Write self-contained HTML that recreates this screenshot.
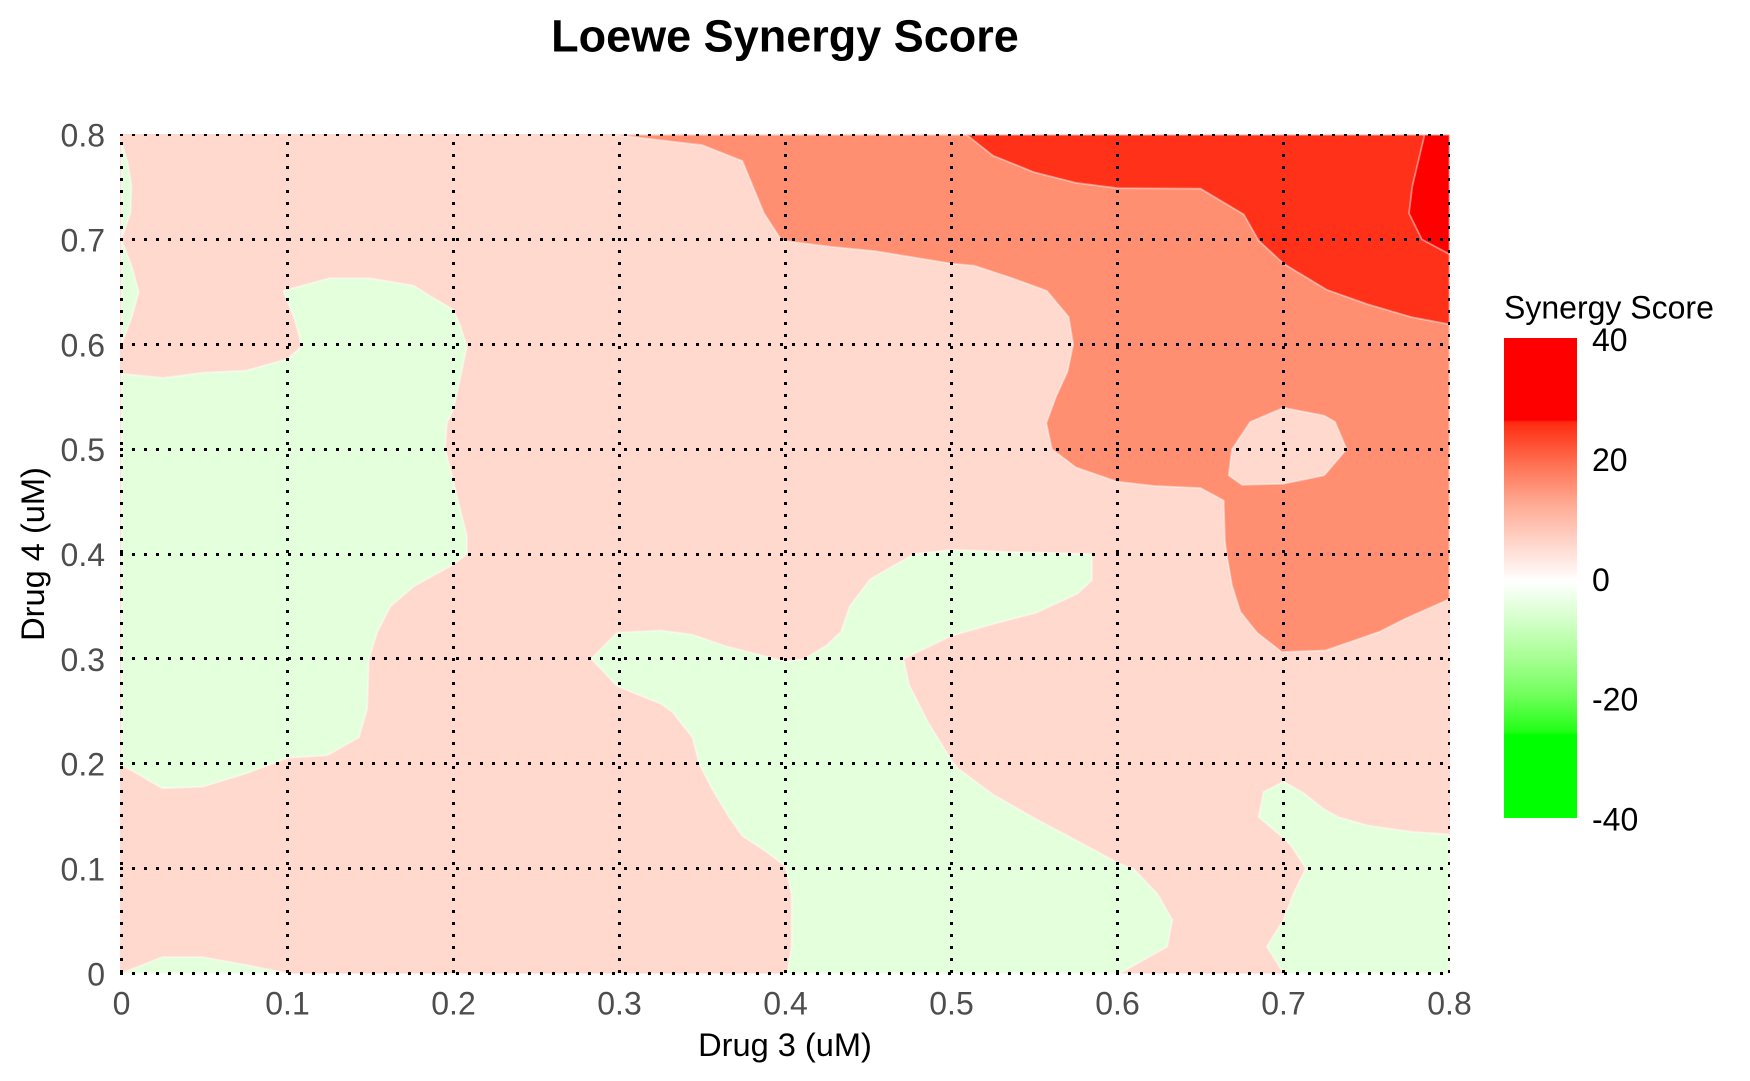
<!DOCTYPE html>
<html lang="en">
<head>
<meta charset="utf-8">
<title>Loewe Synergy Score</title>
<style>
  html, body { margin: 0; padding: 0; background: #fff; }
  svg { display: block; font-family: "Liberation Sans", Arial, sans-serif; }
</style>
</head>
<body>
<svg id="chart" xmlns="http://www.w3.org/2000/svg" width="1750" height="1081" viewBox="0 0 1750 1081">
  <defs>
    <linearGradient id="legend-gradient" x1="0" y1="0" x2="0" y2="1">
      <stop offset="0" stop-color="#ff0000"/>
      <stop offset="0.171" stop-color="#ff0000"/>
      <stop offset="0.175" stop-color="#ff2a10"/>
      <stop offset="0.256" stop-color="#ff6b4c"/>
      <stop offset="0.338" stop-color="#ffa58e"/>
      <stop offset="0.42" stop-color="#ffd2c6"/>
      <stop offset="0.49" stop-color="#fff6f3"/>
      <stop offset="0.504" stop-color="#ffffff"/>
      <stop offset="0.52" stop-color="#f8fff6"/>
      <stop offset="0.585" stop-color="#d5ffcb"/>
      <stop offset="0.665" stop-color="#a8ff94"/>
      <stop offset="0.745" stop-color="#6fff5a"/>
      <stop offset="0.822" stop-color="#20ff14"/>
      <stop offset="0.827" stop-color="#00ff00"/>
      <stop offset="1" stop-color="#00ff00"/>
    </linearGradient>
    <clipPath id="panel-clip">
      <rect x="120" y="134" width="1330" height="841"/>
    </clipPath>
  </defs>
  <rect x="0" y="0" width="1750" height="1081" fill="#ffffff"/>
  <text x="785" y="51.5" text-anchor="middle" font-size="45" font-weight="700" fill="#000000">Loewe Synergy Score</text>
  <g id="regions" clip-path="url(#panel-clip)"></g>
  <g id="grid" clip-path="url(#panel-clip)"></g>
  <g id="x-ticks"></g>
  <g id="y-ticks"></g>
  <text x="785" y="1056" text-anchor="middle" font-size="32.6" fill="#000000">Drug 3 (uM)</text>
  <text x="0" y="0" transform="translate(44 554) rotate(-90)" text-anchor="middle" font-size="32.6" fill="#000000">Drug 4 (uM)</text>
  <g id="legend">
    <text x="1504" y="318.5" font-size="32" fill="#000000">Synergy Score</text>
    <rect x="1504" y="338" width="73" height="480" fill="url(#legend-gradient)"/>
  </g>
</svg>
<script>
// Axis tick values (uM)
const xTicks = [0, 0.1, 0.2, 0.3, 0.4, 0.5, 0.6, 0.7, 0.8];
const yTicks = [0, 0.1, 0.2, 0.3, 0.4, 0.5, 0.6, 0.7, 0.8];
const legendTicks = [40, 20, 0, -20, -40];

// Contour boundaries in data units: Drug 3 dose (x) and Drug 4 dose (y)
const greenSliverUpperDrug3 = [0, 0.0037, 0.006, 0.0054, 0];
const greenSliverUpperDrug4 = [0.793, 0.774, 0.751, 0.726, 0.7];

const greenSliverLowerDrug3 = [0, 0.006, 0.0104, 0.006, 0];
const greenSliverLowerDrug4 = [0.7, 0.675, 0.65, 0.625, 0.6];

const greenLeftDrug3 = [0, 0.025, 0.049, 0.075, 0.1, 0.1086, 0.1045, 0.0975, 0.125, 0.15, 0.176, 0.186, 0.2, 0.204, 0.208, 0.204, 0.2, 0.196, 0.195, 0.2, 0.204, 0.208, 0.208, 0.2, 0.176, 0.162, 0.154, 0.149, 0.148, 0.143, 0.124, 0.1, 0.075, 0.049, 0.0245, 0];
const greenLeftDrug4 = [0.572, 0.568, 0.573, 0.575, 0.586, 0.598, 0.623, 0.651, 0.663, 0.663, 0.656, 0.646, 0.633, 0.618, 0.598, 0.567, 0.538, 0.525, 0.5, 0.469, 0.443, 0.418, 0.4, 0.39, 0.369, 0.35, 0.325, 0.2995, 0.252, 0.225, 0.208, 0.2055, 0.1906, 0.178, 0.1766, 0.199];

const greenBottomLeftDrug3 = [0, 0.0245, 0.049, 0.075, 0.1];
const greenBottomLeftDrug4 = [0, 0.0155, 0.0155, 0.008, 0];

const greenMiddleDrug3 = [0.283, 0.2985, 0.325, 0.344, 0.364, 0.4, 0.411, 0.4245, 0.4335, 0.4387, 0.451, 0.4775, 0.5, 0.535, 0.565, 0.5845, 0.5845, 0.5757, 0.551, 0.5245, 0.5, 0.471, 0.4745, 0.486, 0.5, 0.5034, 0.5245, 0.551, 0.575, 0.6, 0.61, 0.624, 0.633, 0.63, 0.6015, 0.401, 0.4037, 0.4037, 0.4, 0.3876, 0.374, 0.366, 0.3557, 0.348, 0.344, 0.332, 0.325, 0.2985];
const greenMiddleDrug4 = [0.3, 0.325, 0.327, 0.323, 0.312, 0.2975, 0.2995, 0.3125, 0.326, 0.35, 0.376, 0.4, 0.404, 0.402, 0.401, 0.4, 0.375, 0.362, 0.344, 0.333, 0.322, 0.3, 0.275, 0.239, 0.203, 0.196, 0.171, 0.147, 0.127, 0.1055, 0.099, 0.076, 0.051, 0.0255, 0, 0, 0.0247, 0.0757, 0.102, 0.117, 0.131, 0.149, 0.176, 0.2, 0.225, 0.249, 0.257, 0.274];

const greenRightDrug3 = [0.7, 0.688, 0.685, 0.7, 0.7045, 0.7135, 0.706, 0.7, 0.69, 0.7, 0.8, 0.8, 0.777, 0.751, 0.733, 0.724, 0.712];
const greenRightDrug4 = [0.183, 0.173, 0.149, 0.129, 0.122, 0.1, 0.076, 0.051, 0.0255, 0, 0, 0.1326, 0.135, 0.141, 0.149, 0.157, 0.172];

const salmonDrug3 = [0.297, 0.35, 0.374, 0.387, 0.3977, 0.428, 0.454, 0.5, 0.5138, 0.535, 0.5575, 0.5706, 0.5733, 0.5699, 0.5632, 0.5571, 0.5605, 0.575, 0.6, 0.622, 0.65, 0.664, 0.6647, 0.6657, 0.669, 0.674, 0.684, 0.699, 0.7255, 0.758, 0.773, 0.8, 0.8];
const salmonDrug4 = [0.8, 0.79, 0.775, 0.725, 0.699, 0.693, 0.689, 0.677, 0.675, 0.664, 0.651, 0.626, 0.6, 0.574, 0.551, 0.525, 0.5, 0.4825, 0.469, 0.465, 0.463, 0.451, 0.4125, 0.4, 0.37, 0.345, 0.325, 0.3065, 0.308, 0.326, 0.338, 0.357, 0.8];

const pinkIslandDrug3 = [0.7, 0.7245, 0.731, 0.738, 0.7245, 0.7, 0.675, 0.667, 0.669, 0.68];
const pinkIslandDrug4 = [0.5395, 0.532, 0.526, 0.5, 0.475, 0.467, 0.466, 0.475, 0.5, 0.526];

const redDrug3 = [0.509, 0.525, 0.55, 0.575, 0.6, 0.65, 0.676, 0.685, 0.7, 0.726, 0.751, 0.777, 0.8, 0.8];
const redDrug4 = [0.8, 0.78, 0.764, 0.754, 0.749, 0.7485, 0.724, 0.699, 0.677, 0.652, 0.638, 0.626, 0.619, 0.8];

const deepRedDrug3 = [0.785, 0.7776, 0.7756, 0.7834, 0.8, 0.8];
const deepRedDrug4 = [0.8, 0.751, 0.725, 0.7, 0.686, 0.8];

const SVG_NS = 'http://www.w3.org/2000/svg';
const xScale = v => 121.5 + (v / 0.8) * 1328;
const yScale = v => 973.3 - (v / 0.8) * 838.6;
const legendScale = v => 339 + ((40 - v) / 80) * 479.5;
const snap = p => Math.round(p - 0.5) + 0.5;
const tickText = v => String(v);

function makeEl(tag, parent) {
  const el = document.createElementNS(SVG_NS, tag);
  parent.appendChild(el);
  return el;
}

const regionGroup = document.getElementById('regions');

const panel = makeEl('rect', regionGroup);


panel.setAttribute('x', 120);
panel.setAttribute('y', 134);
panel.setAttribute('width', 1330);
panel.setAttribute('height', 839.5);
panel.setAttribute('fill', '#ffd9ce');

function drawRegion(xs, ys, fill, name) {
  const poly = makeEl('polygon', regionGroup);
  
  
  poly.setAttribute('points', xs.map((x, i) => xScale(x).toFixed(1) + ',' + yScale(ys[i]).toFixed(1)).join(' '));
  poly.setAttribute('fill', fill);
  poly.setAttribute('stroke', '#ffffff');
  poly.setAttribute('stroke-opacity', '0.45');
  poly.setAttribute('stroke-width', '1.8');
  poly.setAttribute('stroke-linejoin', 'round');
}

const GREEN = '#e3ffdb', PINK = '#ffd9ce', SALMON = '#ff8f70', RED = '#ff3219', DEEP = '#ff0000';
drawRegion(greenSliverUpperDrug3, greenSliverUpperDrug4, GREEN, 'region-green-sliver-upper');
drawRegion(greenSliverLowerDrug3, greenSliverLowerDrug4, GREEN, 'region-green-sliver-lower');
drawRegion(greenLeftDrug3, greenLeftDrug4, GREEN, 'region-green-left');
drawRegion(greenBottomLeftDrug3, greenBottomLeftDrug4, GREEN, 'region-green-bottom-left');
drawRegion(greenMiddleDrug3, greenMiddleDrug4, GREEN, 'region-green-middle');
drawRegion(greenRightDrug3, greenRightDrug4, GREEN, 'region-green-right');
drawRegion(salmonDrug3, salmonDrug4, SALMON, 'region-salmon');
drawRegion(pinkIslandDrug3, pinkIslandDrug4, PINK, 'region-pink-island');
drawRegion(redDrug3, redDrug4, RED, 'region-red');
drawRegion(deepRedDrug3, deepRedDrug4, DEEP, 'region-deep-red');

const gridGroup = document.getElementById('grid');
function styleGrid(line) {
  line.setAttribute('stroke', '#000000');
  line.setAttribute('stroke-width', '3');
  line.setAttribute('stroke-dasharray', '3 9');
}

yTicks.forEach(v => {
  const line = makeEl('line', gridGroup);
  
  
  line.setAttribute('x1', 120);
  line.setAttribute('x2', 1451);
  line.setAttribute('y1', snap(yScale(v)));
  line.setAttribute('y2', snap(yScale(v)));
  styleGrid(line);
});

xTicks.forEach(v => {
  const line = makeEl('line', gridGroup);
  
  
  line.setAttribute('x1', snap(xScale(v)));
  line.setAttribute('x2', snap(xScale(v)));
  line.setAttribute('y1', 973);
  line.setAttribute('y2', 134);
  styleGrid(line);
});

const xTickGroup = document.getElementById('x-ticks');
xTicks.forEach(v => {
  const t = makeEl('text', xTickGroup);
  
  
  t.setAttribute('x', xScale(v));
  t.setAttribute('y', 1014.5);
  t.setAttribute('text-anchor', 'middle');
  t.setAttribute('font-size', '32');
  t.setAttribute('fill', '#4d4d4d');
  t.textContent = tickText(v);
});

const yTickGroup = document.getElementById('y-ticks');
yTicks.forEach(v => {
  const t = makeEl('text', yTickGroup);
  
  
  t.setAttribute('x', 105);
  t.setAttribute('y', yScale(v) + 12);
  t.setAttribute('text-anchor', 'end');
  t.setAttribute('font-size', '32');
  t.setAttribute('fill', '#4d4d4d');
  t.textContent = tickText(v);
});

const legendGroup = document.getElementById('legend');
legendTicks.forEach(v => {
  const t = makeEl('text', legendGroup);
  
  
  t.setAttribute('x', 1592);
  t.setAttribute('y', legendScale(v) + 12);
  t.setAttribute('font-size', '32');
  t.setAttribute('fill', '#000000');
  t.textContent = tickText(v);
});
</script>
</body>
</html>
